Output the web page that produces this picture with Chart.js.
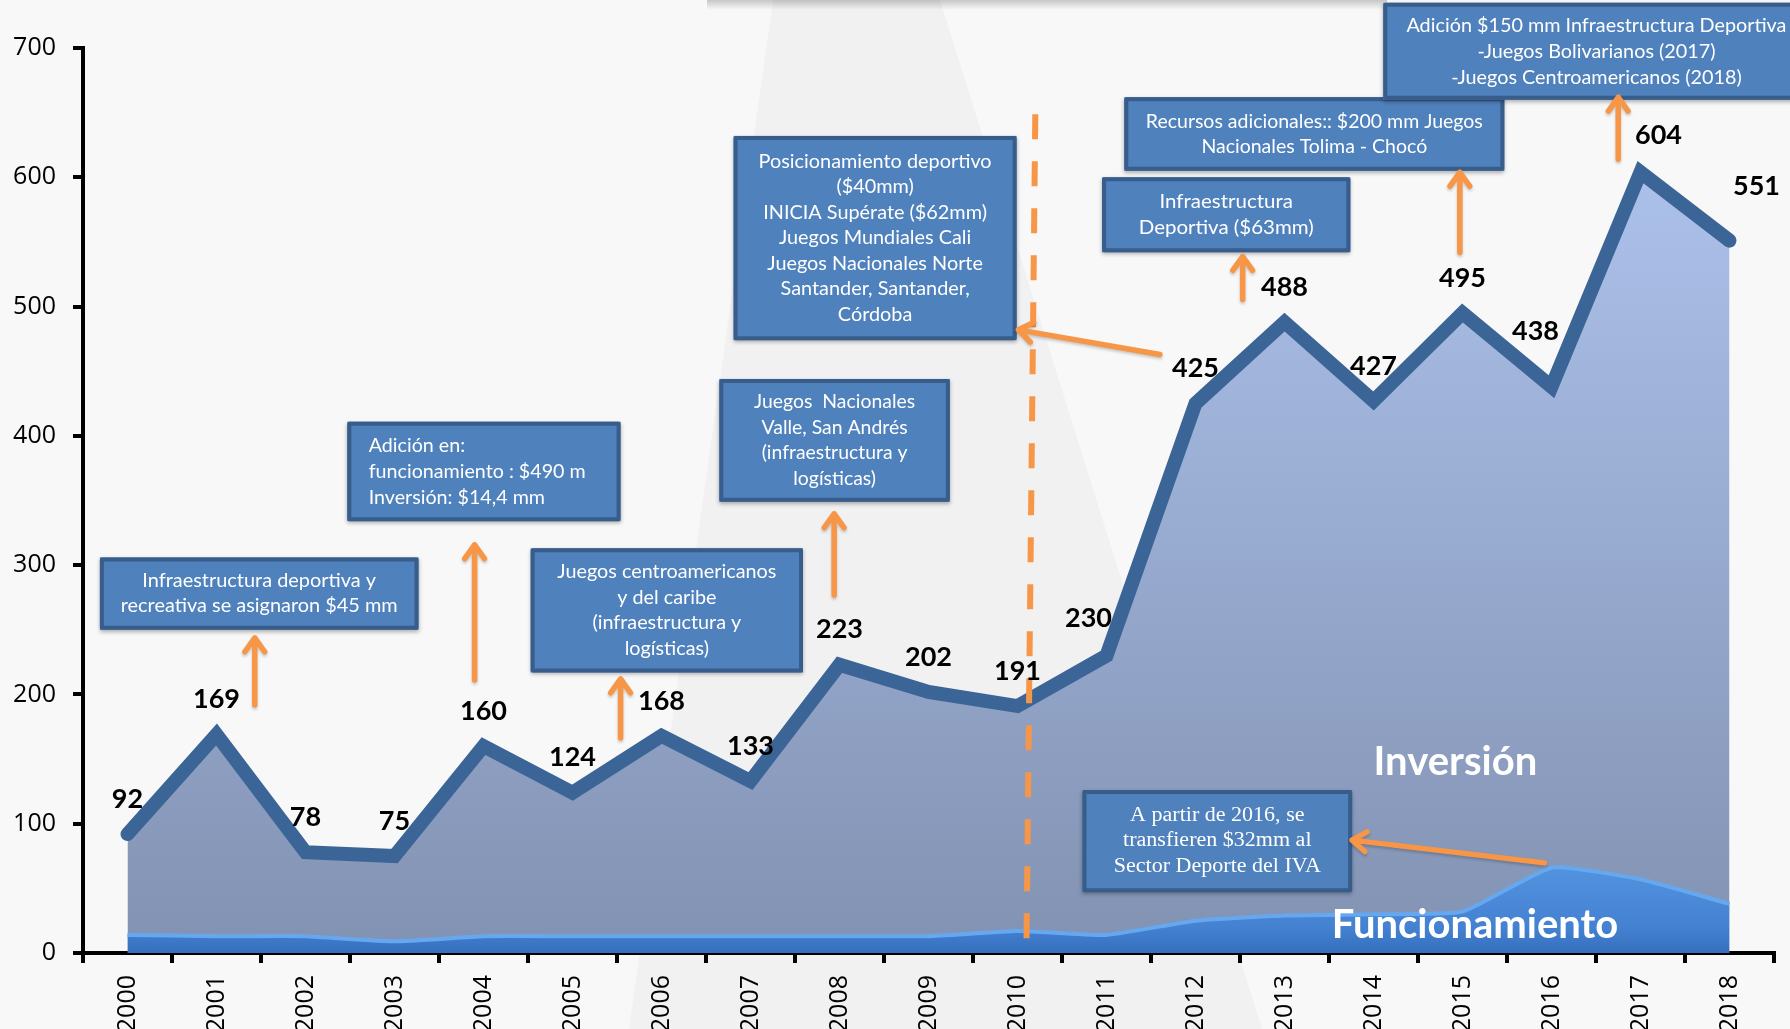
<!DOCTYPE html>
<html>
<head>
<meta charset="utf-8">
<script src="https://cdn.jsdelivr.net/npm/chart.js@4/dist/chart.umd.min.js"></script>
<style>
  html, body { margin: 0; padding: 0; background: #f8f8f8; }
  #wrap { width: 1790px; height: 1029px; }
</style>
</head>
<body>
<div id="wrap"><canvas id="chart"></canvas></div>
<script>
const years = ['2000', '2001', '2002', '2003', '2004', '2005', '2006', '2007', '2008', '2009',
  '2010', '2011', '2012', '2013', '2014', '2015', '2016', '2017', '2018'];
// total (inversión + funcionamiento), the labelled line
const totalValues = [92, 169, 78, 75, 160, 124, 168, 133, 223, 202, 191, 230, 425, 488, 427, 495, 438, 604, 551];
const funcValues = [14, 13, 13, 9, 13, 13, 13, 13, 13, 13, 17, 14, 25, 29, 30, 32, 66, 57, 38];
const yMax = 700;
const yStep = 100;

// notes: box corners in (category index, value)
const notes = [
  { x1: -0.31, x2: 3.27, y1: 306, y2: 250, lh: 25, fit: 277, font: '19px Lato',
    lines: ['Infraestructura deportiva y', 'recreativa se asignaron $45 mm'] },
  { x1: 2.47, x2: 5.54, y1: 411, y2: 334, lh: 26, fit: 217, font: '19px Lato', textX: 2.71,
    lines: ['Adición en:', 'funcionamiento : $490 m', 'Inversión: $14,4 mm'] },
  { x1: 4.53, x2: 7.59, y1: 313, y2: 217, lh: 25.5, fit: 219, font: '19px Lato',
    lines: ['Juegos centroamericanos', 'y del caribe', '(infraestructura y', 'logísticas)'] },
  { x1: 6.65, x2: 9.24, y1: 444, y2: 349, lh: 25.5, fit: 161, font: '19px Lato',
    lines: ['Juegos  Nacionales', 'Valle, San Andrés', '(infraestructura y', 'logísticas)'] },
  { x1: 6.81, x2: 9.99, y1: 632, y2: 474, lh: 25.5, fit: 233, font: '19px Lato',
    lines: ['Posicionamiento deportivo', '($40mm)', 'INICIA Supérate ($62mm)', 'Juegos Mundiales Cali',
      'Juegos Nacionales Norte', 'Santander, Santander,', 'Córdoba'] },
  { x1: 10.95, x2: 13.74, y1: 600, y2: 542, lh: 26, fit: 175, font: '20px Lato',
    lines: ['Infraestructura', 'Deportiva ($63mm)'] },
  { x1: 11.20, x2: 15.47, y1: 662, y2: 605, lh: 25, fit: 337, font: '20px Lato',
    lines: ['Recursos adicionales:: $200 mm Juegos', 'Nacionales Tolima - Chocó'] },
  { x1: 14.11, x2: 18.90, y1: 735, y2: 660, lh: 26, fit: 380, font: '20px Lato',
    lines: ['Adición $150 mm Infraestructura Deportiva', '-Juegos Bolivarianos (2017)', '-Juegos Centroamericanos (2018)'] },
  { x1: 10.73, x2: 13.76, y1: 126, y2: 47, lh: 25.5, fit: 207, font: '20px "Liberation Serif"',
    lines: ['A partir de 2016, se', 'transfieren $32mm al', 'Sector Deporte del IVA'] }
];

// arrows: tail -> tip in (category index, value)
const arrows = [
  [1.43, 191.8, 1.43, 243.7],
  [3.90, 211.2, 3.90, 315.7],
  [5.54, 166.3, 5.54, 212.0],
  [7.94, 277.0, 7.94, 339.7],
  [11.60, 462.9, 10.01, 482.0],
  [12.53, 505.4, 12.53, 538.7],
  [14.97, 541.8, 14.97, 603.8],
  [16.75, 613.9, 16.75, 661.9],
  [15.92, 69.7, 13.76, 87.3]
];

const areaNames = [
  { text: 'Inversión', x: 14.92, y: 147.7 },
  { text: 'Funcionamiento', x: 15.14, y: 21.3 }
];

const labelShift = { 11: [-18, -37], 16: [-16, -55], 17: [18, -37], 18: [27, -54] };

const ORANGE = '#f79646';

function backdrop(chart) {
  const c = chart.ctx;
  c.save();
  c.fillStyle = '#f8f8f8';
  c.fillRect(0, 0, chart.width, chart.height);
  c.fillStyle = '#f1f1f2';
  c.beginPath();
  c.moveTo(773, 0); c.lineTo(940, 0); c.lineTo(1262, 1029); c.lineTo(629, 1029);
  c.closePath(); c.fill();
  const g = c.createLinearGradient(0, 0, 0, 10);
  g.addColorStop(0, 'rgba(0,0,0,0.2)');
  g.addColorStop(1, 'rgba(0,0,0,0)');
  c.fillStyle = g;
  c.fillRect(707, 0, 680, 10);
  c.restore();
}

function fitLines(c, note, cx, cy, leftX) {
  c.font = note.font;
  const widest = Math.max(...note.lines.map(l => c.measureText(l).width));
  const sx = note.fit / widest;
  const h = note.lines.length * note.lh;
  c.textBaseline = 'middle';
  c.textAlign = leftX != null ? 'left' : 'center';
  note.lines.forEach((line, k) => {
    c.save();
    c.translate(leftX != null ? leftX : cx, cy - h / 2 + note.lh * (k + 0.5));
    c.scale(sx, 1);
    c.fillText(line, 0, 0);
    c.restore();
  });
}

function drawArrow(c, x1, y1, x2, y2) {
  const a = Math.atan2(y2 - y1, x2 - x1);
  const head = 17, spread = 0.62;
  c.beginPath();
  c.moveTo(x1, y1); c.lineTo(x2, y2);
  c.moveTo(x2 - head * Math.cos(a - spread), y2 - head * Math.sin(a - spread));
  c.lineTo(x2, y2);
  c.lineTo(x2 - head * Math.cos(a + spread), y2 - head * Math.sin(a + spread));
  c.stroke();
}

const overlay = {
  id: 'overlay',
  beforeDraw: backdrop,
  afterDraw(chart) {
    const c = chart.ctx;
    const xs = chart.scales.x, ys = chart.scales.y;
    const px = v => xs.getPixelForValue(v);
    const py = v => ys.getPixelForValue(v);

    // area names
    c.save();
    c.fillStyle = '#ffffff';
    c.font = 'bold 40px Lato';
    c.textAlign = 'center';
    c.textBaseline = 'middle';
    areaNames.forEach(n => c.fillText(n.text, px(n.x), py(n.y)));
    c.restore();

    // 2010 dashed marker
    c.save();
    c.strokeStyle = ORANGE;
    c.lineWidth = 6;
    c.setLineDash([25, 22]);
    c.beginPath();
    c.moveTo(px(10.20), py(648.7));
    c.lineTo(px(10.10), py(0));
    c.stroke();
    c.restore();

    // value labels
    c.save();
    c.fillStyle = '#000';
    c.font = 'bold 27px Lato';
    c.textAlign = 'center';
    c.textBaseline = 'middle';
    const meta = chart.getDatasetMeta(1);
    meta.data.forEach((pt, i) => {
      const [dx, dy] = labelShift[i] || [0, -35];
      c.fillText(String(totalValues[i]), pt.x + dx, pt.y + dy);
    });
    c.restore();

    // note boxes
    notes.forEach(n => {
      const l = px(n.x1), r = px(n.x2), t = py(n.y1), b = py(n.y2);
      c.save();
      c.shadowColor = 'rgba(0,0,0,0.3)';
      c.shadowBlur = 4;
      c.shadowOffsetY = 2;
      c.fillStyle = '#4f81bd';
      c.fillRect(l, t, r - l, b - t);
      c.restore();
      c.save();
      c.strokeStyle = '#385d8a';
      c.lineWidth = 4;
      c.lineJoin = 'round';
      c.strokeRect(l + 2, t + 2, r - l - 4, b - t - 4);
      c.fillStyle = '#ffffff';
      fitLines(c, n, (l + r) / 2, (t + b) / 2, n.textX != null ? px(n.textX) : null);
      c.restore();
    });

    // arrows
    c.save();
    c.strokeStyle = ORANGE;
    c.lineWidth = 5.5;
    c.lineCap = 'round';
    c.lineJoin = 'round';
    c.shadowColor = 'rgba(0,0,0,0.2)';
    c.shadowBlur = 3;
    c.shadowOffsetY = 2;
    arrows.forEach(([x1, y1, x2, y2]) => drawArrow(c, px(x1), py(y1), px(x2), py(y2)));
    c.restore();
  }
};

function inversionFill(context) {
  const { chart } = context;
  const { ctx, chartArea } = chart;
  if (!chartArea) return '#95a6c8';
  const g = ctx.createLinearGradient(0, chartArea.top + 100, 0, chartArea.bottom);
  g.addColorStop(0, '#adc2ec');
  g.addColorStop(1, '#8292b2');
  return g;
}

function funcFill(context) {
  const { chart } = context;
  const { ctx, chartArea } = chart;
  if (!chartArea) return '#3d78c8';
  const g = ctx.createLinearGradient(0, chartArea.bottom - 90, 0, chartArea.bottom);
  g.addColorStop(0, '#5394e0');
  g.addColorStop(0.7, '#4582d2');
  g.addColorStop(1, '#3570be');
  return g;
}

const axisFont = { family: '"Open Sans", "DejaVu Sans", sans-serif', size: 25 };

new Chart(document.getElementById('chart'), {
  type: 'line',
  data: {
    labels: years,
    datasets: [
      {
        label: 'Funcionamiento',
        data: funcValues,
        order: 0,
        fill: 'origin',
        backgroundColor: funcFill,
        borderColor: '#66a8f0',
        borderWidth: 4,
        pointRadius: 0,
        tension: 0.15
      },
      {
        label: 'Inversión',
        data: totalValues,
        order: 1,
        fill: 'origin',
        backgroundColor: inversionFill,
        borderColor: '#3c6597',
        borderWidth: 14,
        borderJoinStyle: 'miter',
        borderCapStyle: 'round',
        pointRadius: 0,
        tension: 0
      }
    ]
  },
  options: {
    responsive: true,
    maintainAspectRatio: false,
    animation: false,
    layout: { padding: { top: 48, right: 16, left: 0, bottom: 0 } },
    plugins: {
      legend: { display: false },
      tooltip: { enabled: false }
    },
    scales: {
      x: {
        offset: true,
        z: 1,
        afterFit: s => { s.height = 76; },
        ticks: {
          color: '#000',
          font: axisFont,
          minRotation: 90,
          maxRotation: 90,
          autoSkip: false,
          padding: 12
        },
        grid: { offset: true, drawOnChartArea: false, color: '#000', lineWidth: 4, tickLength: 10 },
        border: { color: '#000', width: 4 }
      },
      y: {
        min: 0,
        max: yMax,
        afterFit: s => { s.width = 83; },
        ticks: { stepSize: yStep, color: '#000', font: axisFont, padding: 17 },
        grid: { drawOnChartArea: false, color: '#000', lineWidth: 4, tickLength: 10 },
        border: { color: '#000', width: 4 }
      }
    }
  },
  plugins: [overlay]
});
</script>
</body>
</html>
